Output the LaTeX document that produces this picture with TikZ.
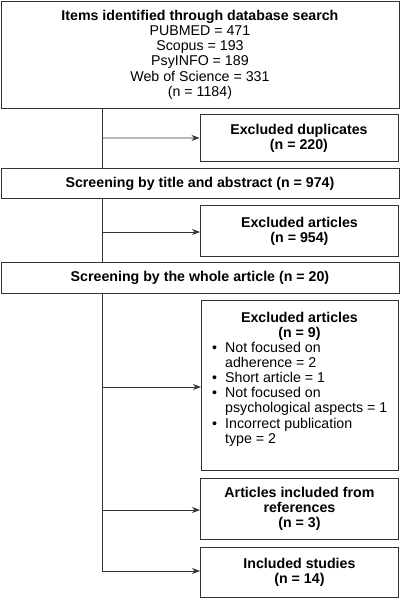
\documentclass[tikz,border=0pt]{standalone}
\usepackage{fontspec}
\setmainfont{Liberation Sans}
\usetikzlibrary{arrows.meta}
\tikzset{
  box/.style={draw=black!80, fill=white, line width=0.9pt, rectangle, anchor=north west, inner sep=0pt, align=center, font=\fontsize{14.2}{15.2}\selectfont},
  txt/.style={inner sep=0pt, font=\fontsize{14.2}{15.2}\selectfont},
  flow/.style={draw=black!80, line width=0.9pt},
  arr/.style={draw=black!80, line width=0.9pt, -{Stealth[length=8pt,width=6pt]}}
}
\begin{document}
\begin{tikzpicture}[x=1pt,y=1pt]
\useasboundingbox (0,0) rectangle (400,-598);
\coordinate (top) at (102,-108);
\coordinate (bot) at (102,-571);
\draw[flow] (top) -- (bot);
\node[box, minimum width=398, minimum height=107.5] (src) at (0.5,-0.5)
  {\textbf{Items identified through database search}\\PUBMED = 471\\Scopus = 193\\PsyINFO = 189\\Web of Science = 331\\(n = 1184)};
\node[box, minimum width=198, minimum height=47] (dup) at (199.5,-114)
  {\textbf{Excluded duplicates}\\\textbf{(n = 220)}};
\node[box, minimum width=398, minimum height=30] (scr1) at (0.5,-168)
  {\textbf{Screening by title and abstract (n = 974)}};
\node[box, minimum width=198, minimum height=51] (exa) at (200,-205)
  {\textbf{Excluded articles}\\\textbf{(n = 954)}};
\node[box, minimum width=398, minimum height=31] (scr2) at (0.5,-262)
  {\textbf{Screening by the whole article (n = 20)}};
\node[box, minimum width=197, minimum height=170] (exb) at (201,-300) {};
\node[txt, anchor=base] (exbt) at (299.5,-322)
  {\begin{tabular}[t]{@{}c@{}}\textbf{Excluded articles}\\\textbf{(n = 9)}\end{tabular}};
\node[txt, anchor=base west] (exbl) at (212,-352)
  {\begin{tabular}[t]{@{}p{13pt}@{}l@{}}
   \textbullet & Not focused on\\ & adherence = 2\\
   \textbullet & Short article = 1\\
   \textbullet & Not focused on\\ & psychological aspects = 1\\
   \textbullet & Incorrect publication\\ & type = 2\end{tabular}};
\node[box, minimum width=198, minimum height=61] (ref) at (200,-478)
  {\textbf{Articles included from}\\\textbf{references}\\\textbf{(n = 3)}};
\node[box, minimum width=198, minimum height=50] (inc) at (200,-547)
  {\textbf{Included studies}\\\textbf{(n = 14)}};
\draw[arr] (102,-138) -- (dup.west);
\draw[arr] (102,-232) -- (exa.west |- 102,-232);
\draw[arr] (102,-387) -- (exb.west |- 102,-387);
\draw[arr] (102,-510) -- (ref.west |- 102,-510);
\draw[arr] (bot) -- (inc.west |- bot);
\end{tikzpicture}
\end{document}
